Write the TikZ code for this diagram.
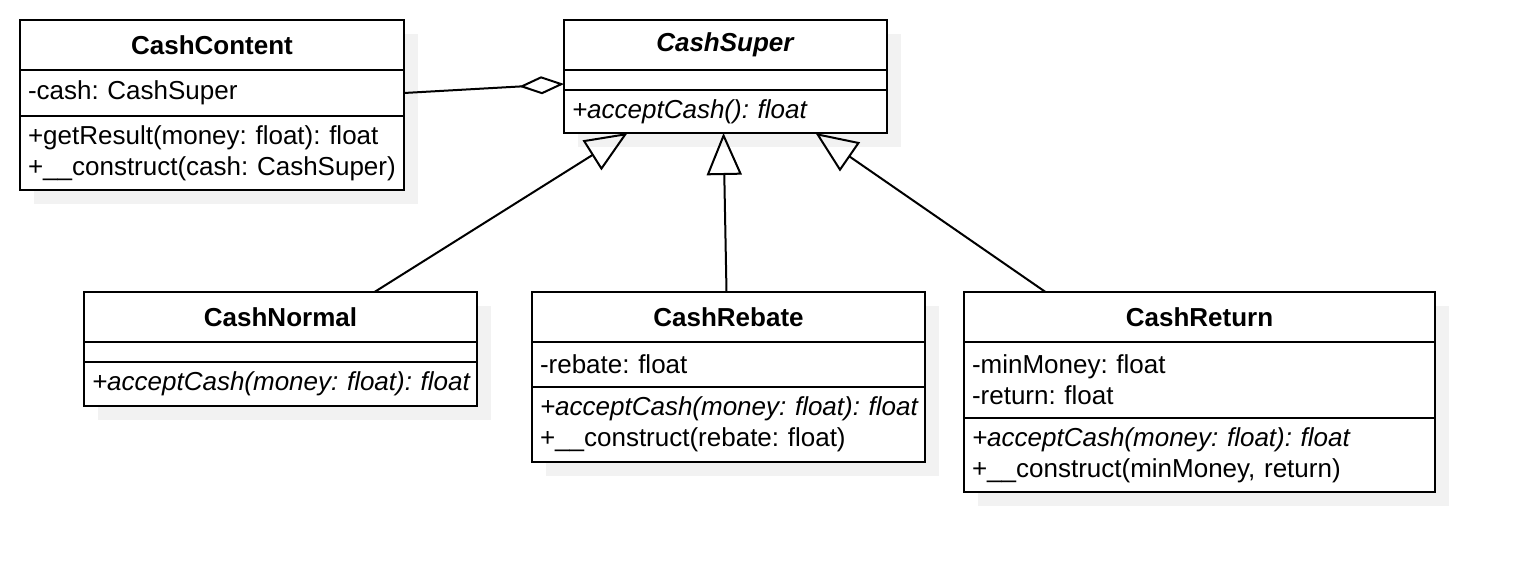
\documentclass[tikz,border=0pt]{standalone}
\usepackage{fontspec}
\setmainfont{Liberation Sans}
\usetikzlibrary{positioning}
\usetikzlibrary{arrows.meta}
\usetikzlibrary{backgrounds}

\definecolor{shadowGray}{RGB}{242,242,242}

\begin{document}
\frenchspacing
\begin{tikzpicture}[x = 0.5pt, y = -0.5pt, font = \fontsize{13pt}{15.5pt}\selectfont]
	\tikzstyle{partStyle} = [draw, line width = 1pt, fill = white, outer sep = 0pt, inner xsep = 4pt, inner ysep = 0pt, align = left, execute at begin node = {\hyphenpenalty = 10000\hbadness = 10000\hfuzz = 5pt}]
	\tikzstyle{titleStyle} = [partStyle, align = center, anchor = north west, minimum height = 25pt, font = \fontsize{13pt}{15.5pt}\selectfont\bfseries]
	\tikzstyle{emptyStyle} = [partStyle, minimum height = 10pt]
	\tikzstyle{inheritStyle} = [line width = 1pt, -{Triangle[open, length = 21pt, width = 17.5pt]}]
	\tikzstyle{aggregateStyle} = [line width = 1pt, -{Diamond[open, length = 22.5pt, width = 9pt]}]
	\useasboundingbox (0, 0) rectangle (1514, 572);
	% CashContent
	\node[titleStyle, text width = 184pt] (content) at (20, 20) {CashContent};
	\node[partStyle, text width = 184pt, minimum height = 23pt, below = 0pt of content] (contentAttr) {-cash: CashSuper};
	\node[partStyle, text width = 184pt, minimum height = 37pt, below = 0pt of contentAttr] (contentOps) {+getResult(money: float): float\\+\_\_construct(cash:~CashSuper)};
	% CashSuper
	\node[titleStyle, text width = 153.5pt] (super) at (564, 20) {\textit{CashSuper}};
	\node[emptyStyle, text width = 153.5pt, below = 0pt of super] (superAttr) {};
	\node[partStyle, text width = 153.5pt, minimum height = 21.5pt, below = 0pt of superAttr] (superOps) {\textit{+acceptCash(): float}};
	% CashNormal
	\node[titleStyle, text width = 188.5pt] (normal) at (84, 292) {CashNormal};
	\node[emptyStyle, text width = 188.5pt, below = 0pt of normal] (normalAttr) {};
	\node[partStyle, text width = 188.5pt, minimum height = 22pt, below = 0pt of normalAttr] (normalOps) {\textit{+acceptCash(money:~float):~float}};
	% CashRebate
	\node[titleStyle, text width = 188.5pt] (rebate) at (532, 292) {CashRebate};
	\node[partStyle, text width = 188.5pt, minimum height = 22.5pt, below = 0pt of rebate] (rebateAttr) {-rebate: float};
	\node[partStyle, text width = 188.5pt, minimum height = 37.5pt, below = 0pt of rebateAttr] (rebateOps) {\textit{+acceptCash(money:~float):~float}\\+\_\_construct(rebate: float)};
	% CashReturn
	\node[titleStyle, text width = 227.5pt] (return) at (964, 292) {CashReturn};
	\node[partStyle, text width = 227.5pt, minimum height = 38pt, below = 0pt of return] (returnAttr) {-minMoney: float\\-return: float};
	\node[partStyle, text width = 227.5pt, minimum height = 37pt, below = 0pt of returnAttr] (returnOps) {\textit{+acceptCash(money: float): float}\\+\_\_construct(minMoney, return)};
	% shadows
	\begin{scope}[on background layer]
		\foreach \cls/\last in {content/contentOps, super/superOps, normal/normalOps, rebate/rebateOps, return/returnOps}
			\fill[shadowGray] ([shift = {(14, 14)}]\cls.north west) rectangle ([shift = {(14, 14)}]\last.south east);
	\end{scope}
	% relations
	\draw[aggregateStyle] (contentAttr.east) -- ([yshift = -2pt]superAttr.west);
	\draw[inheritStyle] ([xshift = 47pt]normal.north) -- ([xshift = -49pt]superOps.south);
	\draw[inheritStyle] ([xshift = -1pt]rebate.north) -- ([xshift = -1pt]superOps.south);
	\draw[inheritStyle] ([xshift = -77pt]return.north) -- ([xshift = 45pt]superOps.south);
\end{tikzpicture}
\end{document}
